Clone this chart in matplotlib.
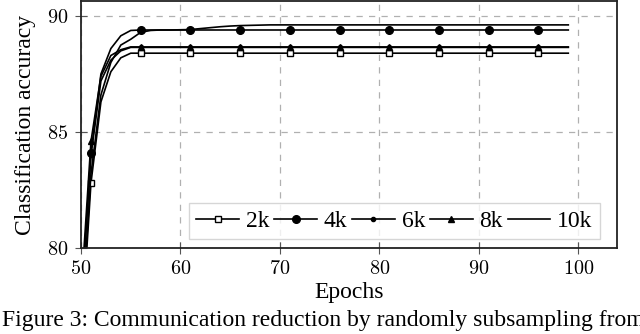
import matplotlib
matplotlib.use("Agg")
import matplotlib.pyplot as plt
from matplotlib.ticker import FuncFormatter

plt.rcParams['font.family'] = ['Liberation Serif', 'DejaVu Serif']
plt.rcParams['mathtext.fontset'] = 'cm'

# accuracy per epoch, epochs 50..99
epochs = list(range(50, 100))

acc_2k = [76.0, 82.8, 86.3, 87.6, 88.2, 88.4, 88.4, 88.4, 88.4, 88.4,
          88.4, 88.4, 88.4, 88.4, 88.4, 88.4, 88.4, 88.4, 88.4, 88.4,
          88.4, 88.4, 88.4, 88.4, 88.4, 88.4, 88.4, 88.4, 88.4, 88.4,
          88.4, 88.4, 88.4, 88.4, 88.4, 88.4, 88.4, 88.4, 88.4, 88.4,
          88.4, 88.4, 88.4, 88.4, 88.4, 88.4, 88.4, 88.4, 88.4, 88.4]
acc_4k = [77.5, 84.1, 87.5, 88.6, 89.15, 89.38, 89.4, 89.4, 89.4, 89.4,
          89.4, 89.4, 89.4, 89.4, 89.4, 89.4, 89.4, 89.4, 89.4, 89.4,
          89.4, 89.4, 89.4, 89.4, 89.4, 89.4, 89.4, 89.4, 89.4, 89.4,
          89.4, 89.4, 89.4, 89.4, 89.4, 89.4, 89.4, 89.4, 89.4, 89.4,
          89.4, 89.4, 89.4, 89.4, 89.4, 89.4, 89.4, 89.4, 89.4, 89.4]
acc_6k = [77.5, 84.0, 87.2, 88.1, 88.5, 88.65, 88.65, 88.65, 88.65, 88.65,
          88.65, 88.65, 88.65, 88.65, 88.65, 88.65, 88.65, 88.65, 88.65, 88.65,
          88.65, 88.65, 88.65, 88.65, 88.65, 88.65, 88.65, 88.65, 88.65, 88.65,
          88.65, 88.65, 88.65, 88.65, 88.65, 88.65, 88.65, 88.65, 88.65, 88.65,
          88.65, 88.65, 88.65, 88.65, 88.65, 88.65, 88.65, 88.65, 88.65, 88.65]
acc_8k = [78.0, 84.6, 87.4, 88.3, 88.55, 88.67, 88.67, 88.67, 88.67, 88.67,
          88.67, 88.67, 88.67, 88.67, 88.67, 88.67, 88.67, 88.67, 88.67, 88.67,
          88.67, 88.67, 88.67, 88.67, 88.67, 88.67, 88.67, 88.67, 88.67, 88.67,
          88.67, 88.67, 88.67, 88.67, 88.67, 88.67, 88.67, 88.67, 88.67, 88.67,
          88.67, 88.67, 88.67, 88.67, 88.67, 88.67, 88.67, 88.67, 88.67, 88.67]
acc_10k = [76.5, 83.2, 86.6, 88.0, 88.75, 89.0, 89.3, 89.38, 89.4, 89.4,
           89.41, 89.42, 89.46, 89.5, 89.54, 89.57, 89.59, 89.6, 89.61, 89.62,
           89.62, 89.62, 89.62, 89.62, 89.62, 89.62, 89.62, 89.62, 89.62, 89.62,
           89.62, 89.62, 89.62, 89.62, 89.62, 89.62, 89.62, 89.62, 89.62, 89.62,
           89.62, 89.62, 89.62, 89.62, 89.62, 89.62, 89.62, 89.62, 89.62, 89.62]

labels = ['2k', '4k', '6k', '8k', '10k']
series = [acc_2k, acc_4k, acc_6k, acc_8k, acc_10k]
styles = [dict(marker='s', ms=5, mfc='white', mew=1.0),
          dict(marker='o', ms=5.5, mfc='black'),
          dict(marker='o', ms=3, mfc='black'),
          dict(marker='^', ms=4, mfc='black'),
          dict(marker=None)]

fig = plt.figure(figsize=(6.4, 3.34), dpi=100)
ax = fig.add_axes([0.1266, 0.2575, 0.8375, 0.7395])

for lab, ys, st in zip(labels, series, styles):
    ax.plot(epochs, ys, color='black', lw=1.2, markevery=(1, 5),
            mec='black', label=lab, **st)

ax.set_xlim(50, 103.9)
ax.set_ylim(80, 90.65)
ax.set_xticks([50, 60, 70, 80, 90, 100])
ax.set_yticks([80, 85, 90])
tick_fmt = FuncFormatter(lambda v, p: '$%d$' % v)
ax.xaxis.set_major_formatter(tick_fmt)
ax.yaxis.set_major_formatter(tick_fmt)
ax.grid(True, color='#b0b0b0', linestyle=(0, (5, 5)), lw=0.9)
ax.set_axisbelow(True)
for sp in ax.spines.values():
    sp.set_linewidth(1.3)
    sp.set_color('#222222')
ax.tick_params(direction='inout', length=8, width=0.8, color='#555555',
               labelsize=14.5, pad=5)

ax.set_xlabel('Epochs', fontsize=17, labelpad=2)
ax.set_ylabel('Classification accuracy', fontsize=17, labelpad=8)

leg = ax.legend(ncol=5, loc='lower right', bbox_to_anchor=(0.968, 0.036),
                fontsize=17, frameon=True, fancybox=False, handlelength=1.8,
                columnspacing=0.2, handletextpad=0.3, borderpad=0.3,
                borderaxespad=0)
leg.get_frame().set_edgecolor('#cccccc')
leg.get_frame().set_linewidth(1.0)

fig.text(0.003, 0.024, 'Figure 3: Communication reduction by randomly subsampling from',
         fontsize=17, ha='left', va='baseline')

fig.savefig('out.png', dpi=100)
